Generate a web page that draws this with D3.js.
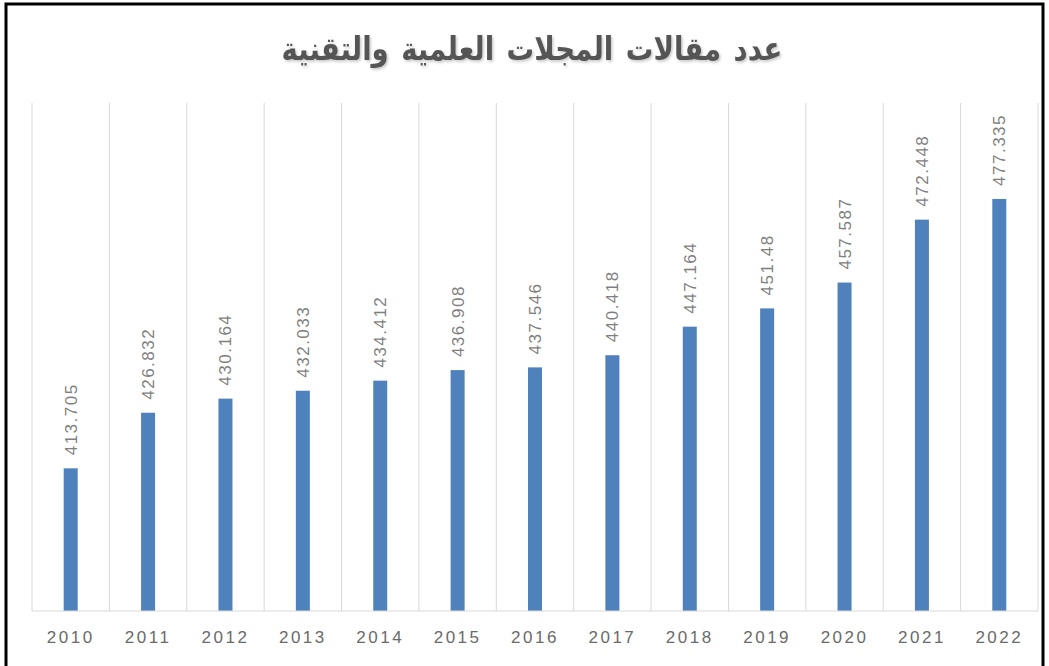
<!DOCTYPE html>
<html>
<head>
<meta charset="utf-8">
<script src="https://cdn.jsdelivr.net/npm/d3@7"></script>
<style>
  body { margin: 0; background: #fff; }
  svg { display: block; }
</style>
</head>
<body>
<svg id="chart" width="1049" height="666"></svg>
<script>
    var years = ["2010", "2011", "2012", "2013", "2014", "2015", "2016", "2017", "2018", "2019", "2020", "2021", "2022"];
    var values = [413.705, 426.832, 430.164, 432.033, 434.412, 436.908, 437.546, 440.418, 447.164, 451.48, 457.587, 472.448, 477.335];
    var labels = ["413.705", "426.832", "430.164", "432.033", "434.412", "436.908", "437.546", "440.418", "447.164", "451.48", "457.587", "472.448", "477.335"];
    var title = "عدد مقالات المجلات العلمية والتقنية";

    var width = 1049, height = 666;
    var margin = {top: 103, right: 11, bottom: 55, left: 32};

    var svg = d3.select("#chart");

    // frame
    svg.append("rect")
        .attr("x", 6).attr("y", 4)
        .attr("width", 1037).attr("height", 680)
        .attr("fill", "none")
        .attr("stroke", "#000")
        .attr("stroke-width", 3);

    var defs = svg.append("defs");
    var f = defs.append("filter").attr("id", "shadow")
        .attr("x", "-5%").attr("y", "-20%").attr("width", "110%").attr("height", "140%");
    f.append("feDropShadow")
        .attr("dx", 1.5).attr("dy", 1.5).attr("stdDeviation", 1.2)
        .attr("flood-color", "#000").attr("flood-opacity", 0.22);

    svg.append("text")
        .attr("transform", "translate(532,60) scale(0.95,1.12)")
        .attr("text-anchor", "middle")
        .attr("direction", "rtl")
        .attr("font-family", "DejaVu Sans")
        .attr("font-weight", "bold")
        .attr("font-size", 29)
        .attr("word-spacing", 3)
        .attr("fill", "#555")
        .attr("filter", "url(#shadow)")
        .text(title);

    var x = d3.scaleBand()
        .domain(years)
        .range([margin.left, width - margin.right]);

    var y = d3.scaleLinear()
        .domain([380, 500])
        .range([height - margin.bottom, margin.top]);

    var g = svg.append("g");

    // vertical gridlines between categories
    var edges = years.map(function(d){ return x(d); }).concat([x(years[years.length - 1]) + x.bandwidth()]);
    g.selectAll("line.grid")
        .data(edges)
      .enter().append("line")
        .attr("class", "grid")
        .attr("x1", function(d){ return d; })
        .attr("x2", function(d){ return d; })
        .attr("y1", margin.top)
        .attr("y2", height - margin.bottom)
        .attr("stroke", "#d9d9d9")
        .attr("stroke-width", 1);

    var barW = 14;
    g.selectAll("rect.bar")
        .data(values)
      .enter().append("rect")
        .attr("class", "bar")
        .attr("x", function(d, i){ return x(years[i]) + x.bandwidth() / 2 - barW / 2; })
        .attr("y", function(d){ return y(d); })
        .attr("width", barW)
        .attr("height", function(d){ return y(380) - y(d); })
        .attr("fill", "#4f81bd");

    // baseline
    g.append("line")
        .attr("x1", margin.left).attr("x2", width - margin.right)
        .attr("y1", y(380)).attr("y2", y(380))
        .attr("stroke", "#d9d9d9");

    // data labels
    g.selectAll("text.lbl")
        .data(values)
      .enter().append("text")
        .attr("class", "lbl")
        .attr("transform", function(d, i){
          var cx = x(years[i]) + x.bandwidth() / 2 + 6;
          return "translate(" + cx + "," + (y(d) - 13) + ") rotate(-90)";
        })
        .attr("font-family", "Liberation Sans, Arial")
        .attr("font-size", 17)
        .attr("fill", "#7f7f7f")
        .attr("letter-spacing", 1.5)
        .text(function(d, i){ return labels[i]; });

    // x axis
    var xAxis = d3.axisBottom(x).tickSize(0).tickPadding(20);
    var ax = svg.append("g")
        .attr("transform", "translate(0," + y(380) + ")")
        .call(xAxis);
    ax.select(".domain").remove();
    ax.selectAll("text")
        .attr("font-family", "Liberation Sans, Arial")
        .attr("font-size", 17)
        .attr("fill", "#6a6a6a")
        .attr("letter-spacing", 2.5);
</script>
</body>
</html>
